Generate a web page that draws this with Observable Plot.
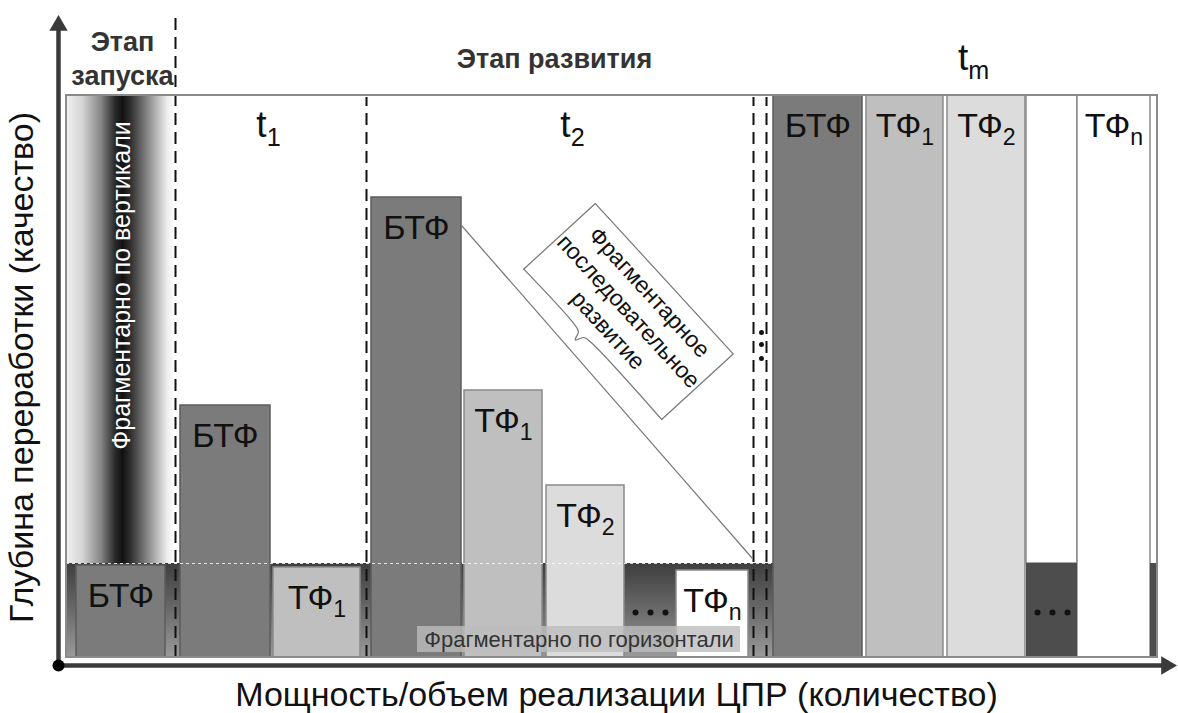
<!DOCTYPE html>
<html><head><meta charset="utf-8">
<script src="https://cdn.jsdelivr.net/npm/d3@7"></script>
<script src="https://cdn.jsdelivr.net/npm/@observablehq/plot@0.6"></script>
<style>html,body{margin:0;padding:0;background:#fff;}</style>
</head><body><div id="chart"></div>
<script>
// ---- Data (units: x = width along "quantity", y = depth "quality") ----
const barLabel = ["БТФ", "БТФ", "ТФ_1", "БТФ", "ТФ_1", "ТФ_2", "ТФ_n", "БТФ", "ТФ_1", "ТФ_2", "", "ТФ_n"];
const barX1    = [10, 114, 207, 305, 398, 480, 610, 707, 800, 881, 960, 1011];
const barX2    = [99, 204, 294, 395, 476, 558, 682, 796, 877, 959, 1011, 1084];
const barTop   = [92, 252, 90, 460, 267, 172, 87, 562, 562, 562, 562, 562];
const barTone  = ["base", "base", "tf1", "base", "tf1", "tf2", "tfn", "base", "tf1", "tf2", "blank", "tfn"];

const bandLevel = 94;            // common base level
const bandEnd = 707;             // gradient base band spans the launch + development stages
const tmBandX1 = [960, 1084];
const tmBandX2 = [1011, 1091];
const gapCenters = [584, 986];   // "..." positions
const gapDotY = 45;

const dividerX   = [109, 300, 687, 700];
const dividerTop = [642, 560, 560, 560];

const periodText = ["t_1", "t_2", "t_m"];
const periodX = [202, 506, 907];
const periodY = [532, 532, 599];

const stageText = ["Этап", "запуска", "Этап развития"];
const stageX = [56, 56, 488];
const stageY = [615, 581, 598];

const launchX = [0, 109];
const vertText = "Фрагментарно по вертикали";
const horizText = "Фрагментарно по горизонтали";
const horizBox = [351, 674, 5, 31];

const calloutLines = ["Фрагментарное", "последовательное", "развитие"];
const callout = {cx: 562, cy: 346, w: 204, h: 97, angle: 47.5};
const leader = [[395, 432], [686, 99]];

const xTitle = "Мощность/объем реализации ЦПР (количество)";
const yTitle = "Глубина переработки (качество)";

// ---- derived ----
const bars = barX1.map((x1, i) => ({x1, x2: barX2[i], top: barTop[i], tone: barTone[i], label: barLabel[i]}));
const toneFill = {base: "#7b7b7b", tf1: "#bfbfbf", tf2: "#dcdcdc", tfn: "#ffffff", blank: "#ffffff"};
const toneStroke = {base: "#5c5c5c", tf1: "#8a8a8a", tf2: "#8a8a8a", tfn: "#8a8a8a", blank: "#8a8a8a"};

const th = callout.angle * Math.PI / 180, c = Math.cos(th), s = Math.sin(th);
const loc = (lx, ly) => ({x: callout.cx + (lx * c - ly * s), y: callout.cy - (lx * s + ly * c)});
const W = callout.w / 2, H = callout.h / 2;
const boxPath = [[W, H], [W, -H], [-W, -H], [-W, H]].map(([a, b]) => loc(a, b));
const bracePath = [[-W, H], [-28, H], [-19, H + 2], [-15, H + 10], [-11, H + 2], [-2, H], [W, H]].map(([a, b]) => loc(a, b));
const calloutText = calloutLines.map((t, i) => ({t, ...loc(0, (i - 1) * 28)}));

const gapDots = gapCenters.flatMap(g => [-15, 0, 15].map(o => ({x: g + o, y: gapDotY})));
const O = {x: -8, y: -8};

const plot = Plot.plot({
  width: 1178, height: 713,
  marginLeft: 66, marginRight: 21, marginTop: 95, marginBottom: 56,
  x: {domain: [0, 1091], axis: null},
  y: {domain: [0, 562], axis: null},
  color: {type: "identity"},
  style: {fontFamily: "'Liberation Sans', Arial, sans-serif", background: "#fff", overflow: "visible"},
  marks: [
    Plot.rect([0], {x1: () => 0, x2: () => bandEnd, y1: () => 0, y2: () => bandLevel, fill: "url(#gBand)"}),
    Plot.rect([0], {x1: () => launchX[0], x2: () => launchX[1], y1: () => bandLevel, y2: () => 562, fill: "url(#gLaunch)"}),
    Plot.rect(bars, {x1: "x1", x2: "x2", y1: d => d.tone === "blank" ? bandLevel : 0, y2: "top",
      fill: d => toneFill[d.tone], stroke: d => toneStroke[d.tone], strokeWidth: 1.5}),
    Plot.rect(tmBandX1, {x1: d => d, x2: (d, i) => tmBandX2[i], y1: () => 0, y2: () => bandLevel, fill: "#4d4d4d"}),
    Plot.ruleY([bandLevel], {x1: () => 0, x2: () => bandEnd, stroke: "#fff", strokeWidth: 1.2, strokeDasharray: "3,3", strokeOpacity: 0.8}),
    Plot.dot(gapDots, {x: "x", y: "y", r: 3, fill: "#111"}),
    Plot.rect([horizBox], {x1: d => d[0], x2: d => d[1], y1: d => d[2], y2: d => d[3], fill: "#bdbdbd", fillOpacity: 0.8}),
    Plot.text([horizText], {x: () => (horizBox[0] + horizBox[1]) / 2, y: () => (horizBox[2] + horizBox[3]) / 2, text: d => d, fontSize: 22, fill: "#333"}),
    Plot.ruleX(dividerX, {x: d => d, y1: () => 0, y2: (d, i) => dividerTop[i], stroke: "#111", strokeWidth: 2, strokeDasharray: "12,7"}),
    Plot.dot([325, 313, 299], {x: () => 695, y: d => d, r: 2.5, fill: "#111"}),
    Plot.link([leader], {x1: d => d[0][0], y1: d => d[0][1], x2: d => d[1][0], y2: d => d[1][1], stroke: "#777", strokeWidth: 1.2}),
    Plot.line(boxPath, {x: "x", y: "y", stroke: "#777", strokeWidth: 1.2}),
    Plot.line(bracePath, {x: "x", y: "y", stroke: "#777", strokeWidth: 1.2, curve: "catmull-rom"}),
    Plot.text(calloutText, {x: "x", y: "y", text: "t", rotate: callout.angle, fontSize: 23, fill: "#111"}),
    Plot.text([vertText], {x: () => (launchX[0] + launchX[1]) / 2 + 1, y: () => 372, text: d => d, rotate: -90, fontSize: 25, fill: "#fff"}),
    Plot.text(bars.filter(d => d.label), {x: d => (d.x1 + d.x2) / 2, y: d => d.top - 31, text: "label", fontSize: 34, fill: "#111"}),
    Plot.text(periodText, {x: (d, i) => periodX[i], y: (d, i) => periodY[i], text: d => d, fontSize: 37, fill: "#111"}),
    Plot.text(stageText, {x: (d, i) => stageX[i], y: (d, i) => stageY[i], text: d => d, fontSize: 27, fontWeight: "bold", fill: "#333"}),
    Plot.rect([0], {x1: () => 0, x2: () => 1091, y1: () => 0, y2: () => 562, fill: "none", stroke: "#8a8a8a", strokeWidth: 2}),
    Plot.link([O], {x1: "x", y1: "y", x2: "x", y2: () => 632, stroke: "#3a3a3a", strokeWidth: 4.5}),
    Plot.link([O], {x1: "x", y1: "y", x2: () => 1100, y2: "y", stroke: "#3a3a3a", strokeWidth: 4.5}),
    Plot.dot([O], {x: "x", y: () => 632, symbol: "triangle", r: 6.8, fill: "#3a3a3a"}),
    Plot.dot([O], {x: () => 1100, y: "y", symbol: "triangle", r: 6.8, rotate: 90, fill: "#3a3a3a"}),
    Plot.dot([O], {x: "x", y: "y", r: 6, fill: "#000"}),
    Plot.text([xTitle], {x: () => 550, y: () => -38, text: d => d, fontSize: 34, fill: "#111"}),
    Plot.text([yTitle], {x: () => -44, y: () => 290, text: d => d, rotate: -90, fontSize: 34, fill: "#111"})
  ]
});

const defs = d3.select(plot).insert("defs", ":first-child");
const gl = defs.append("linearGradient").attr("id", "gLaunch").attr("x1", 0).attr("x2", 1).attr("y1", 0).attr("y2", 0);
[[0, "#f2f2f2"], [0.15, "#d4d4d4"], [0.32, "#858585"], [0.45, "#2a2a2a"], [0.52, "#111"], [0.6, "#333"], [0.78, "#9a9a9a"], [0.93, "#eeeeee"], [1, "#ffffff"]]
  .forEach(([o, col]) => gl.append("stop").attr("offset", o).attr("stop-color", col));
const gb = defs.append("linearGradient").attr("id", "gBand").attr("x1", 0).attr("x2", 0).attr("y1", 0).attr("y2", 1);
[[0, "#3e3e3e"], [0.5, "#6a6a6a"], [1, "#9a9a9a"]]
  .forEach(([o, col]) => gb.append("stop").attr("offset", o).attr("stop-color", col));

d3.select(plot).selectAll("text").each(function () {
  const t = this.textContent;
  if (t.includes("_")) {
    const [a, b] = t.split("_");
    this.textContent = "";
    d3.select(this).append("tspan").text(a);
    d3.select(this).append("tspan").attr("font-size", "0.68em").attr("dy", "0.35em").text(b);
  }
});

document.getElementById("chart").appendChild(plot);
</script>
</body></html>
